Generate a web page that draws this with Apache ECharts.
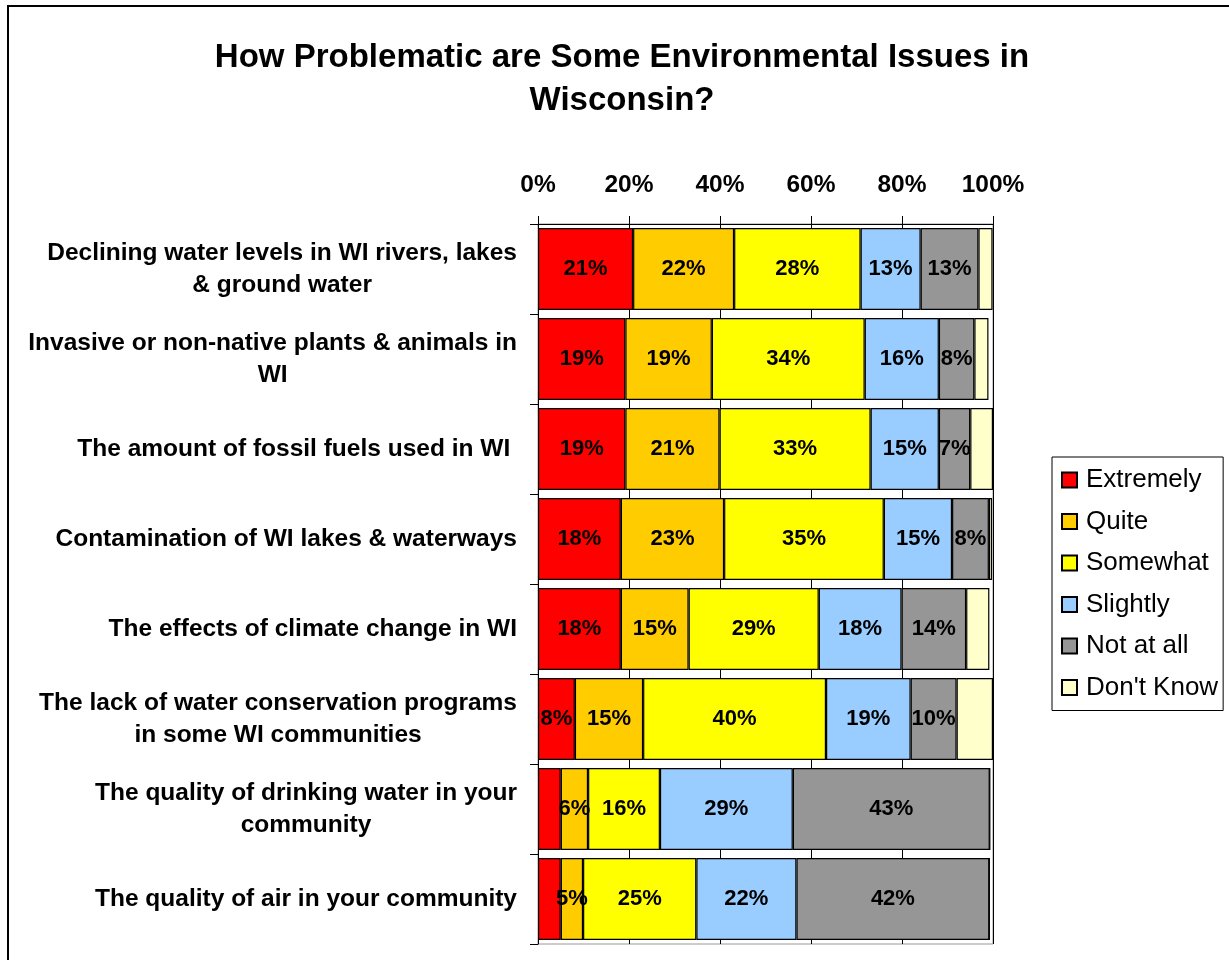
<!DOCTYPE html>
<html><head><meta charset="utf-8">
<script src="https://cdn.jsdelivr.net/npm/echarts@6/dist/echarts.min.js"></script>
<style>html,body{margin:0;padding:0;background:#fff}#c{width:1229px;height:960px}</style>
</head><body><div id="c"></div>
<script>
const categories = [
  "Declining water levels in WI rivers, lakes\n& ground water",
  "Invasive or non-native plants & animals in\nWI",
  "The amount of fossil fuels used in WI ",
  "Contamination of WI lakes & waterways",
  "The effects of climate change in WI",
  "The lack of water conservation programs\nin some WI communities",
  "The quality of drinking water in your\ncommunity",
  "The quality of air in your community"
];
const seriesNames = ["Extremely", "Quite", "Somewhat", "Slightly", "Not at all", "Don't Know"];
const extremely = [20.9, 19.2, 19.2, 18.2, 18.2, 8.1, 5.0, 5.0];
const quite     = [22.2, 19.0, 20.7, 22.7, 14.9, 15.0, 6.0, 4.9];
const somewhat  = [27.8, 33.6, 33.2, 35.1, 28.6, 40.2, 15.8, 24.9];
const slightly  = [13.2, 16.3, 15.0, 15.0, 18.2, 18.6, 29.2, 22.0];
const notAtAll  = [12.7, 7.8, 6.9, 8.1, 14.2, 10.1, 43.3, 42.4];
const dontKnow  = [3.1, 3.1, 5.0, 0.7, 5.1, 8.0, 0, 0];
const xTickLabels = ["0%", "20%", "40%", "60%", "80%", "100%"];

const seriesValues = [extremely, quite, somewhat, slightly, notAtAll, dontKnow];
const colors = ["#FF0000", "#FFCC00", "#FFFF00", "#99CCFF", "#969696", "#FFFFCC"];
const FONT = "'Liberation Sans', Arial, sans-serif";

function labelFor(si) {
  return function (p) {
    if (si === 5) return "";
    if (si === 0 && p.value < 6) return "";
    return Math.round(p.value) + "%";
  };
}

const chart = echarts.init(document.getElementById("c"), null, { renderer: "canvas" });
chart.setOption({
  animation: false,
  backgroundColor: "#fff",
  textStyle: { fontFamily: FONT },
  graphic: [
    { type: "rect", shape: { x: 8, y: 6, width: 1260, height: 1000 },
      style: { fill: "none", stroke: "#000", lineWidth: 2 }, z: -1 },
    { type: "text", x: 622, y: 79,
      style: { text: "How Problematic are Some Environmental Issues in\nWisconsin?",
        fontFamily: FONT, fontSize: 33, fontWeight: "bold", fill: "#000",
        align: "center", verticalAlign: "middle", lineHeight: 43 } }
  ],
  legend: {
    orient: "vertical",
    left: 1052, top: 457,
    padding: [10, 5, 10, 9],
    borderColor: "#000", borderWidth: 1,
    itemWidth: 15, itemHeight: 15, itemGap: 15.5,
    icon: "rect",
    textStyle: { fontFamily: FONT, fontSize: 26, color: "#000", lineHeight: 26, padding: [0, 0, 0, 4] },
    data: seriesNames
  },
  grid: {
    left: 538, right: 236, top: 224, bottom: 16,
    show: true, borderColor: "#999", borderWidth: 1, backgroundColor: "#fff"
  },
  xAxis: {
    type: "value", position: "top", min: 0, max: 100, interval: 20,
    axisLine: { show: true, lineStyle: { color: "#000", width: 1 } },
    axisTick: { show: true, inside: false, length: 8, lineStyle: { color: "#000" } },
    splitLine: { show: true, lineStyle: { color: "#000", width: 1 } },
    axisLabel: {
      margin: 26, fontFamily: FONT, fontSize: 24.5, fontWeight: "bold", color: "#000",
      formatter: function (v) { return xTickLabels[Math.round(v / 20)]; }
    }
  },
  yAxis: {
    type: "category", inverse: true, data: categories,
    axisLine: { show: true, lineStyle: { color: "#000", width: 1 } },
    axisTick: { show: true, inside: false, length: 8, lineStyle: { color: "#000" } },
    axisLabel: {
      margin: 21, align: "right",
      formatter: function (v) {
        return v.split("\n").map(function (l) { return "{c|" + l + "}"; }).join("\n");
      },
      rich: {
        c: { fontFamily: FONT, fontSize: 24.5, fontWeight: "bold", color: "#000",
             align: "center", lineHeight: 32 }
      }
    }
  },
  series: seriesNames.map(function (name, si) {
    return {
      name: name, type: "bar", stack: "total",
      barCategoryGap: "9%",
      data: seriesValues[si],
      itemStyle: { color: colors[si], borderColor: "#000", borderWidth: 1.2 },
      label: {
        show: true, position: "inside", color: "#000",
        fontFamily: FONT, fontSize: 22, fontWeight: "bold",
        formatter: labelFor(si)
      },
      emphasis: { disabled: true }
    };
  })
});
</script></body></html>
